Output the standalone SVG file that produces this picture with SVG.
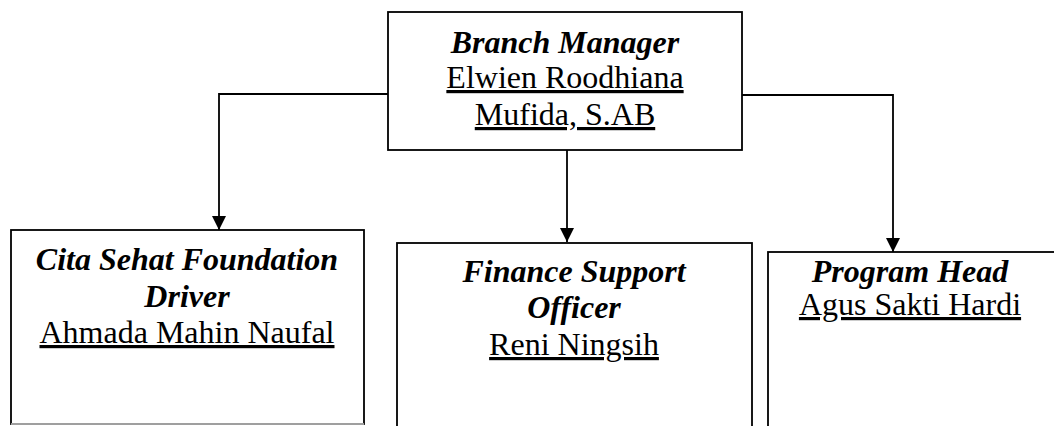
<svg xmlns="http://www.w3.org/2000/svg" width="1054" height="426" viewBox="0 0 1054 426">
<style>
.box{fill:#fff;stroke:#000;stroke-width:1.8}
.t{font-family:"Liberation Serif","Times New Roman",serif;font-size:32px;text-anchor:middle;fill:#000}
.b{font-weight:bold;font-style:italic}
.u{text-decoration:underline}
.c{fill:none;stroke:#000;stroke-width:1.8}
</style>
<defs>
<marker id="ah" markerWidth="14" markerHeight="14" refX="14" refY="7" orient="auto" markerUnits="userSpaceOnUse">
<path d="M0,0 L14,7 L0,14 Z" fill="#000"/>
</marker>
</defs>
<rect width="1054" height="426" fill="#fff"/>
<g id="connectors">
<polyline class="c" points="388,94 219,94 219,230" marker-end="url(#ah)"/>
<line class="c" x1="567" y1="150" x2="567" y2="242" marker-end="url(#ah)"/>
<polyline class="c" points="742,95 893,95 893,252" marker-end="url(#ah)"/>
</g>
<g id="branch-manager">
<rect class="box" x="388" y="12" width="354" height="138"/>
<text class="t b" x="565" y="53">Branch Manager</text>
<text class="t u" x="565" y="88">Elwien Roodhiana</text>
<text class="t u" x="565" y="125">Mufida, S.AB</text>
</g>
<g id="driver">
<rect class="box" x="11" y="230" width="353" height="194" stroke-opacity="1"/>
<line x1="11" y1="424" x2="364" y2="424" stroke="#ccc" stroke-width="1.5"/>
<text class="t b" x="187" y="270">Cita Sehat Foundation</text>
<text class="t b" x="187" y="307">Driver</text>
<text class="t u" x="187" y="343">Ahmada Mahin Naufal</text>
</g>
<g id="finance">
<rect class="box" x="397" y="243" width="355" height="200"/>
<text class="t b" x="574" y="282">Finance Support</text>
<text class="t b" x="574" y="318">Officer</text>
<text class="t u" x="574" y="355">Reni Ningsih</text>
</g>
<g id="program-head">
<rect class="box" x="768" y="252" width="300" height="200"/>
<text class="t b" x="910" y="282">Program Head</text>
<text class="t u" x="910" y="315">Agus Sakti Hardi</text>
</g>
</svg>
